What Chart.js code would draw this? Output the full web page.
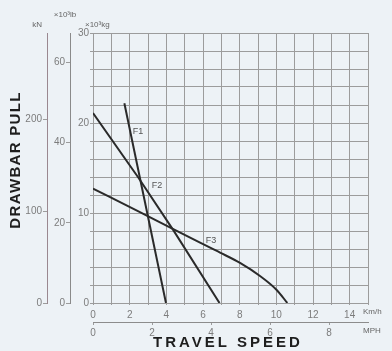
<!DOCTYPE html>
<html>
<head>
<meta charset="utf-8">
<script src="https://cdn.jsdelivr.net/npm/chart.js@4.4.1/dist/chart.umd.min.js"></script>
<style>
  html, body { margin: 0; padding: 0; background: #edf2f6; }
  canvas { display: block; }
</style>
</head>
<body>
<canvas id="chart" width="392" height="351"></canvas>
<script>
// Travel speed (km/h) and drawbar pull (x10^3 kg)
const f1Speed = [1.71, 3.98];
const f1Pull = [22.2, 0];
const f2Speed = [0, 2.47, 4.38, 6.9];
const f2Pull = [21.1, 13.95, 8.1, 0];
const f3Speed = [0, 2.56, 4.38, 5.84, 6.93, 8.02, 9.11, 10.02, 10.6];
const f3Pull = [12.7, 10.1, 8.2, 6.7, 5.6, 4.45, 3.0, 1.45, 0];
const seriesNames = ["F1", "F2", "F3"];

// Tick labels
const kmhTicks = [0, 2, 4, 6, 8, 10, 12, 14];
const mphTicks = [0, 2, 4, 6, 8];
const kgTicks = [0, 10, 20, 30];
const lbTicks = [0, 20, 40, 60];
const knTicks = [0, 100, 200];

const KMH_MAX = 15;
const KG_MAX = 30;
const tickFont = { family: '"Liberation Sans", Arial, sans-serif', size: 10 };
const tickColor = "#7c7c7c";
const gridColor = "#9c9c9c";

function toPoints(xs, ys) {
  return xs.map((x, i) => ({ x: x, y: ys[i] }));
}

// Extra texts: curve names, unit labels and axis titles
const textPlugin = {
  id: "extraText",
  afterDraw(chart) {
    const { ctx, chartArea, scales } = chart;
    ctx.save();
    ctx.textBaseline = "middle";

    // curve names
    const namePos = [[2.45, 19.1], [3.49, 13.1], [6.44, 6.9]];
    ctx.fillStyle = "#555";
    ctx.font = '9px "Liberation Sans", Arial, sans-serif';
    ctx.textAlign = "center";
    seriesNames.forEach((name, i) => {
      ctx.fillText(
        name,
        scales.x.getPixelForValue(namePos[i][0]),
        scales.kg.getPixelForValue(namePos[i][1])
      );
    });

    // units
    ctx.fillStyle = "#666";
    ctx.font = '8px "Liberation Sans", Arial, sans-serif';
    ctx.textAlign = "right";
    ctx.fillText("kN", scales.kn.right - 5, chartArea.top - 8);
    ctx.textAlign = "center";
    ctx.fillText("×10³lb", scales.lb.right - 5, chartArea.top - 18);
    ctx.textAlign = "left";
    ctx.fillText("×10³kg", chartArea.left - 8, chartArea.top - 8);
    ctx.fillText("Km/h", chartArea.right - 5, chartArea.bottom + 9);
    ctx.fillText("MPH", chartArea.right - 5, chartArea.bottom + 28);

    // axis titles
    ctx.fillStyle = "#1e1e1e";
    ctx.font = 'bold 15px "Liberation Sans", Arial, sans-serif';
    ctx.letterSpacing = "3px";
    ctx.textAlign = "center";
    ctx.fillText("TRAVEL SPEED", 228, 343);
    ctx.letterSpacing = "1.3px";
    ctx.translate(16, 160);
    ctx.rotate(-Math.PI / 2);
    ctx.fillText("DRAWBAR PULL", 0, 0);
    ctx.restore();
  },
};

const lineStyle = {
  showLine: true,
  borderColor: "#2a2a2a",
  borderWidth: 2,
  pointRadius: 0,
  fill: false,
  xAxisID: "x",
  yAxisID: "kg",
};

const ctx = document.getElementById("chart").getContext("2d");
new Chart(ctx, {
  type: "scatter",
  data: {
    datasets: [
      { ...lineStyle, label: seriesNames[0], data: toPoints(f1Speed, f1Pull) },
      { ...lineStyle, label: seriesNames[1], data: toPoints(f2Speed, f2Pull) },
      {
        ...lineStyle,
        label: seriesNames[2],
        data: toPoints(f3Speed, f3Pull),
        cubicInterpolationMode: "monotone",
      },
    ],
  },
  options: {
    responsive: false,
    animation: false,
    layout: { padding: { top: 33, right: 24, bottom: 0, left: 0 } },
    plugins: {
      legend: { display: false },
      tooltip: { enabled: false },
    },
    scales: {
      x: {
        type: "linear",
        position: "bottom",
        weight: 0,
        min: 0,
        max: KMH_MAX,
        ticks: {
          stepSize: 1,
          font: tickFont,
          color: tickColor,
          padding: 4,
          maxRotation: 0,
          autoSkip: false,
          callback: (v) => (kmhTicks.includes(v) ? v : ""),
        },
        grid: { color: gridColor, drawTicks: true, tickLength: 2 },
        border: { color: gridColor },
        afterFit: (s) => { s.height = 19; },
      },
      mph: {
        type: "linear",
        axis: "x",
        position: "bottom",
        weight: 1,
        min: 0,
        max: KMH_MAX / 1.609344,
        afterBuildTicks: (s) => { s.ticks = mphTicks.map((v) => ({ value: v })); },
        ticks: { font: tickFont, color: tickColor, padding: 2, maxRotation: 0 },
        grid: { drawOnChartArea: false, color: gridColor, tickLength: 3 },
        border: { display: true, color: "#8c8c8c" },
        afterFit: (s) => { s.height = 29; },
      },
      kg: {
        type: "linear",
        axis: "y",
        position: "left",
        weight: 1,
        min: 0,
        max: KG_MAX,
        ticks: {
          stepSize: 2,
          font: tickFont,
          color: tickColor,
          padding: 1,
          autoSkip: false,
          callback: (v) => (kgTicks.includes(v) ? v : ""),
        },
        grid: { color: gridColor, tickLength: 3 },
        border: { color: gridColor },
        afterFit: (s) => { s.width = 23; },
      },
      lb: {
        type: "linear",
        axis: "y",
        position: "left",
        weight: 2,
        min: 0,
        max: 67.3,
        afterBuildTicks: (s) => { s.ticks = lbTicks.map((v) => ({ value: v })); },
        ticks: { font: tickFont, color: tickColor, padding: 1 },
        grid: { drawOnChartArea: false, color: gridColor, tickLength: 4 },
        border: { display: true, color: "#8a8a8a" },
        afterFit: (s) => { s.width = 23; },
      },
      kn: {
        type: "linear",
        axis: "y",
        position: "left",
        weight: 3,
        min: 0,
        max: KG_MAX * 9.80665,
        afterBuildTicks: (s) => { s.ticks = knTicks.map((v) => ({ value: v })); },
        ticks: { font: tickFont, color: tickColor, padding: 1 },
        grid: { drawOnChartArea: false, color: gridColor, tickLength: 4 },
        border: { display: true, color: "#9a8890" },
        afterFit: (s) => { s.width = 47; },
      },
    },
  },
  plugins: [textPlugin],
});
</script>
</body>
</html>
